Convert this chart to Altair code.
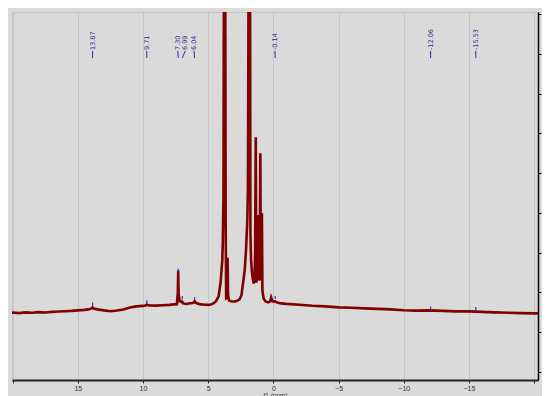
import altair as alt
import pandas as pd

# spectrum: chemical shift (ppm) and intensity
ppm = [20.3, 20.0, 19.5, 19.0, 18.5, 18.0, 17.5, 17.0, 16.5, 16.0, 15.5, 15.0, 14.5, 14.2, 13.95, 13.87, 13.8,
       13.5, 13.0, 12.5, 12.0, 11.5, 11.0, 10.5, 10.0, 9.8, 9.71, 9.6, 9.5, 9.0, 8.5, 8.0, 7.6, 7.4, 7.33,
       7.30, 7.27, 7.2, 7.1, 7.0, 6.99, 6.9, 6.7, 6.5, 6.2, 6.1, 6.04, 5.95, 5.6, 5.2, 5.0, 4.8, 4.6,
       4.4, 4.2, 4.05, 3.98, 3.92, 3.88, 3.83, 3.78, 3.74, 3.70, 3.66, 3.62, 3.55, 3.51, 3.48, 3.44,
       3.4, 3.2, 3.0, 2.8, 2.6, 2.45, 2.3, 2.2, 2.1, 2.0, 1.95, 1.88, 1.80, 1.76, 1.71, 1.64, 1.58,
       1.51, 1.45, 1.40, 1.35, 1.31, 1.25, 1.19, 1.15, 1.11, 1.05, 1.00, 0.96, 0.92, 0.88, 0.84,
       0.75, 0.6, 0.4, 0.25, 0.17, 0.13, 0.05, -0.1, -0.3, -0.6, -1.0, -2.0, -3.0, -4.0, -5.0, -6.0,
       -7.0, -8.0, -9.0, -10.0, -11.0, -12.0, -13.0, -14.0, -15.0, -16.0, -17.0, -18.0, -19.0, -20.0,
       -20.3]
intensity = [95, 98, 92, 100, 96, 102, 98, 105, 108, 112, 115, 120, 125, 130, 140, 150, 138,
             130, 120, 112, 118, 128, 148, 160, 165, 170, 178, 172, 170, 168, 172, 175, 180, 182, 300,
             520, 290, 212, 210, 200, 205, 190, 185, 190, 195, 200, 212, 196, 180, 176, 175, 180, 190,
             212, 260, 400, 520, 620, 800, 1250, 4200, 4500, 4200, 1000, 240, 245, 650, 280, 250,
             220, 210, 210, 215, 230, 270, 420, 520, 720, 1020, 1350, 4500, 4500, 900, 620, 500, 440,
             390, 420, 700, 1860, 400, 450, 800, 1080, 450, 420, 1700, 440, 700, 1100, 320,
             240, 210, 200, 210, 250, 235, 210, 212, 200, 190, 185, 176, 166, 160, 150, 146,
             140, 135, 130, 122, 118, 120, 115, 110, 110, 105, 100, 96, 92, 90,
             90]

# annotated peaks
peak_ppm = [13.87, 9.71, 7.30, 6.99, 6.04, -0.14, -12.06, -15.53]
peak_text = ["13.87", "9.71", "7.30", "6.99", "6.04", "-0.14", "-12.06", "-15.53"]
label_ppm = [13.87, 9.71, 7.33, 6.76, 6.08, -0.12, -12.06, -15.53]
marker_low = [160, 185, 510, 235, 228, 235, 128, 110]
marker_high = [200, 222, 540, 265, 255, 265, 158, 155]

hidden_ppm = [3.72]
hidden_text = ["3.73"]

spec = pd.DataFrame({"ppm": ppm, "intensity": intensity})
peaks = pd.DataFrame({"ppm": peak_ppm, "text": peak_text, "lpos": label_ppm,
                      "lo": marker_low, "hi": marker_high})
hidden = pd.DataFrame({"ppm": hidden_ppm, "text": hidden_text})

xscale = alt.Scale(domain=[20.05, -20.3], nice=False, zero=False)
yscale = alt.Scale(domain=[-580, 3120], nice=False, zero=False)

xvals = [20 - 2.5 * i for i in range(17)]
yvals = list(range(-500, 3101, 100))

xaxis = alt.Axis(
    values=xvals,
    labelExpr="datum.value % 5 == 0 && abs(datum.value) < 20 ? datum.label : ''",
    gridOpacity={"condition": {"test": "datum.value % 5 == 0", "value": 1}, "value": 0},
    title="f1 (ppm)",
    titleFontSize=6.5,
    titleFontWeight="normal",
    titlePadding=1,
    titleColor="#333333",
    labelFontSize=7,
    labelColor="#333333",
    labelPadding=1,
    tickSize=3,
    domainWidth=2,
    domainColor="#222222",
    tickColor="#222222",
)
yaxis = alt.Axis(
    orient="right",
    values=yvals,
    format="d",
    labelExpr="datum.value % 200 == 0 ? datum.label : ''",
    gridOpacity={"condition": {"test": "datum.value % 200 == 0", "value": 1}, "value": 0},
    title=None,
    labelFontSize=7,
    labelColor="#222222",
    labelPadding=1,
    tickSize=3,
    domainWidth=1.5,
    domainColor="#000000",
    tickColor="#000000",
)

hidden_label = alt.Chart(hidden).mark_text(
    angle=270, align="left", baseline="middle", fontSize=6.5, color="#a8a8a8", font="DejaVu Sans"
).encode(x=alt.X("ppm:Q", scale=xscale), y=alt.value(38), text="text:N")

hidden_line = alt.Chart(hidden).mark_rule(color="#a8a8a8", strokeWidth=1).encode(
    x=alt.X("ppm:Q", scale=xscale), y=alt.value(39), y2=alt.value(46)
)

line = alt.Chart(spec).mark_line(color="#800000", strokeWidth=2.6, clip=True).encode(
    x=alt.X("ppm:Q", scale=xscale, axis=xaxis),
    y=alt.Y("intensity:Q", scale=yscale, axis=yaxis),
)

markers = alt.Chart(peaks).mark_rule(color="#3333cc", strokeWidth=1.2).encode(
    x=alt.X("ppm:Q", scale=xscale),
    y=alt.Y("lo:Q", scale=yscale),
    y2="hi:Q",
)

labels = alt.Chart(peaks).mark_text(
    angle=270, align="left", baseline="middle", fontSize=6.5, color="#2b2b8f", font="DejaVu Sans"
).encode(x=alt.X("lpos:Q", scale=xscale), y=alt.value(38), text="text:N")

label_lines = alt.Chart(peaks).mark_rule(color="#2b2b9f", strokeWidth=1).encode(
    x=alt.X("lpos:Q", scale=xscale),
    x2="ppm:Q",
    y=alt.value(39),
    y2=alt.value(46),
)

chart = alt.layer(hidden_label, hidden_line, line, markers, labels, label_lines).properties(
    width=526,
    height=368,
    autosize=alt.AutoSizeParams(type="none"),
    padding={"left": 4, "top": 4, "right": 4, "bottom": 16},
    background="#dadada",
).configure_view(stroke="#c6c6c6", fill="#dadada").configure_axis(
    gridColor="#c6c6c6", gridWidth=1
)

chart.save("out.html", embed_options={"renderer": "svg", "actions": False})
